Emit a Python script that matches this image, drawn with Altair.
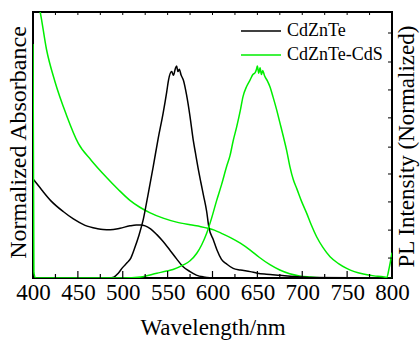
import altair as alt
import pandas as pd

SAMPLES = ["CdZnTe", "CdZnTe-CdS"]
COLORS = ["#000000", "#00ee00"]

# Absorbance, CdZnTe
abs1_nm = [400, 403, 410, 420, 434, 445, 458, 471, 478, 486, 497, 508, 515, 520, 525, 531, 538, 545, 552, 560, 567, 575, 582, 590, 597, 610, 800]
abs1_v = [0.372, 0.36, 0.33, 0.29, 0.249, 0.222, 0.198, 0.186, 0.182, 0.181, 0.187, 0.196, 0.199, 0.199, 0.196, 0.185, 0.163, 0.137, 0.107, 0.072, 0.043, 0.024, 0.011, 0.004, 0.001, 0.0, 0.0]

# Absorbance, CdZnTe-CdS
abs2_nm = [400, 403, 408, 415, 424.5, 437, 450.5, 465, 482, 495, 508, 519, 530, 545, 560, 575, 587, 595, 602, 610, 620, 631, 642, 652, 664, 675, 686, 697, 708, 720, 740, 800]
abs2_v = [1.14, 1.07, 1.0, 0.86, 0.738, 0.615, 0.506, 0.442, 0.378, 0.333, 0.292, 0.266, 0.246, 0.225, 0.21, 0.2, 0.193, 0.187, 0.18, 0.168, 0.152, 0.131, 0.105, 0.078, 0.05, 0.03, 0.016, 0.008, 0.004, 0.001, 0.0, 0.0]

# PL, CdZnTe
pl1_nm = [400, 485, 490, 495, 500, 505, 509, 513, 518, 523, 528, 534, 539.5, 545, 549, 551, 554.5, 556.5, 558.5, 560, 561.5, 563, 565, 567.5, 571, 575, 578.5, 581, 584, 587, 590, 593.5, 596, 601, 605, 610, 616, 623, 631, 642, 650, 660, 675, 690, 710, 800]
pl1_v = [0.0, 0.0, 0.003, 0.018, 0.04, 0.058, 0.075, 0.11, 0.16, 0.222, 0.31, 0.42, 0.525, 0.62, 0.7, 0.744, 0.776, 0.762, 0.786, 0.797, 0.776, 0.785, 0.763, 0.744, 0.69, 0.606, 0.519, 0.47, 0.412, 0.36, 0.31, 0.25, 0.19, 0.143, 0.105, 0.07, 0.052, 0.036, 0.03, 0.024, 0.018, 0.014, 0.01, 0.006, 0.002, 0.0]

# PL, CdZnTe-CdS
pl2_nm = [400, 401, 403, 450, 500, 520, 538, 549, 556, 567.5, 575, 582.5, 588, 593.5, 599, 604.5, 610, 615.8, 619.5, 623, 627, 631, 634, 638, 641.8, 645, 647.5, 649, 650, 651.5, 653, 654.5, 656, 658, 661, 664, 667.5, 671.5, 675, 679, 682.6, 686.3, 690, 694, 699, 705, 710, 716, 723, 731, 740, 749.5, 758, 768, 780, 790, 794, 797, 800]
pl2_v = [0.88, 0.02, 0.0, 0.0, 0.0, 0.004, 0.018, 0.026, 0.032, 0.049, 0.065, 0.093, 0.125, 0.168, 0.225, 0.29, 0.35, 0.42, 0.46, 0.515, 0.569, 0.63, 0.682, 0.72, 0.744, 0.765, 0.772, 0.785, 0.797, 0.77, 0.79, 0.765, 0.78, 0.76, 0.742, 0.719, 0.68, 0.632, 0.585, 0.531, 0.48, 0.418, 0.37, 0.335, 0.29, 0.243, 0.2, 0.155, 0.115, 0.08, 0.055, 0.036, 0.024, 0.015, 0.008, 0.005, 0.002, 0.04, 0.095]

X_LABELS = [400, 450, 500, 550, 600, 650, 700, 750, 800]
X_MAJOR = [450, 500, 550, 600, 650, 700, 750]
X_MINOR = [425, 475, 525, 575, 625, 675, 725, 775]
X_TOP = [425, 450, 475, 500, 525, 550, 575, 600, 625, 650, 675, 700, 725, 750, 775]
RIGHT_TICKS = [0.075, 0.18, 0.286, 0.391, 0.492, 0.602, 0.707, 0.812, 0.921]

rows = []
for sample, curve, xs, ys in [
    (SAMPLES[0], "abs1", abs1_nm, abs1_v),
    (SAMPLES[1], "abs2", abs2_nm, abs2_v),
    (SAMPLES[0], "pl1", pl1_nm, pl1_v),
    (SAMPLES[1], "pl2", pl2_nm, pl2_v),
]:
    assert len(xs) == len(ys), curve
    for x, y in zip(xs, ys):
        rows.append({"sample": sample, "curve": curve, "nm": x, "v": y})
df = pd.DataFrame(rows)

FONT = "Liberation Serif"
x_scale = alt.Scale(domain=[400, 800], nice=False, zero=False)
y_scale = alt.Scale(domain=[0, 1], nice=False, zero=False)

x_axis = alt.Axis(
    values=X_LABELS, title="Wavelength/nm", ticks=False, domain=False, grid=False,
    labelFont=FONT, labelFontSize=23, labelPadding=3, labelColor="black",
    labelFlush=False, labelOverlap=False,
    titleFont=FONT, titleFontSize=23, titleFontWeight="normal", titleColor="black",
    titleX=179.5, titleY=56, titleBaseline="alphabetic")

def xenc():
    return alt.X("nm:Q", scale=x_scale, axis=x_axis)

lines = alt.Chart(df).mark_line(strokeWidth=1.5, clip=True, interpolate="monotone").encode(
    x=xenc(),
    y=alt.Y("v:Q", scale=y_scale, axis=alt.Axis(
        title="Normalized Absorbance", labels=False, ticks=False, domain=False, grid=False,
        titleFont=FONT, titleFontSize=24, titleFontWeight="normal", titleColor="black",
        titleX=-8, titleY=130, titleAngle=270, titleBaseline="alphabetic", titleAlign="center")),
    color=alt.Color("sample:N", scale=alt.Scale(domain=SAMPLES, range=COLORS), legend=alt.Legend(
        title=None, orient="none", legendX=217, legendY=8, symbolType="M-2,0L2,0",
        symbolSize=400, symbolStrokeWidth=1.5, labelFont=FONT, labelFontSize=18,
        labelColor="black", labelOffset=15, rowPadding=4)),
    detail="curve:N",
)

right = alt.Chart(pd.DataFrame({"v": RIGHT_TICKS})).mark_rule(color="black", strokeWidth=1).encode(
    y=alt.Y("v:Q", scale=y_scale, axis=alt.Axis(
        orient="right", title="PL Intensity (Normalized)", labels=False, ticks=False,
        domain=False, grid=False,
        titleFont=FONT, titleFontSize=23, titleFontWeight="normal", titleColor="black",
        titleX=21, titleY=134, titleAngle=270, titleBaseline="alphabetic", titleAlign="center")),
    x=alt.value(355), x2=alt.value(359),
)

bmaj = alt.Chart(pd.DataFrame({"nm": X_MAJOR})).mark_rule(color="black", strokeWidth=1.2).encode(
    x=xenc(), y=alt.value(259), y2=alt.value(266))
bmin = alt.Chart(pd.DataFrame({"nm": X_MINOR})).mark_rule(color="black", strokeWidth=1.2).encode(
    x=xenc(), y=alt.value(262), y2=alt.value(266))
top = alt.Chart(pd.DataFrame({"nm": X_TOP})).mark_rule(color="black", strokeWidth=1).encode(
    x=xenc(), y=alt.value(0), y2=alt.value(3))

chart = alt.layer(lines, bmaj, bmin, top, right).resolve_axis(y="independent").properties(
    width=359, height=266,
    padding={"left": 33, "top": 12, "right": 28, "bottom": 62},
    autosize=alt.AutoSizeParams(type="none"),
    background="white",
).configure_view(stroke="black", strokeWidth=2)

chart.save("out.html", embed_options={"renderer": "svg", "actions": False})
